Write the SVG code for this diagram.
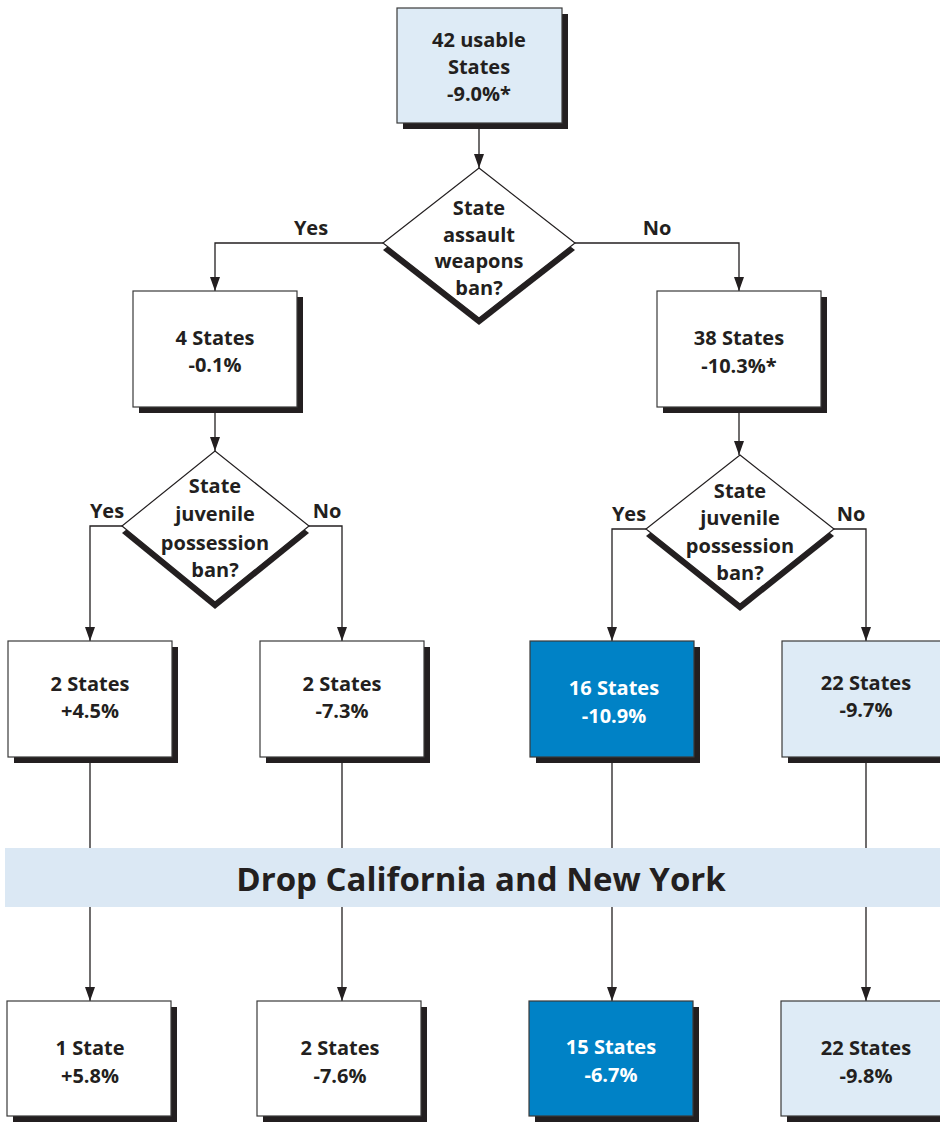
<svg xmlns="http://www.w3.org/2000/svg" width="940" height="1123" viewBox="0 0 940 1123">
<defs>
<marker id="arr" viewBox="0 0 14 10" refX="14" refY="5" markerWidth="14" markerHeight="10" orient="auto" markerUnits="userSpaceOnUse">
<path d="M0,0 L14,5 L0,10 z" fill="#231f20"/>
</marker>
</defs>
<style>
.t{font-family:"Open Sans","Noto Sans","Liberation Sans",sans-serif;font-weight:bold;font-size:20px;fill:#231f20;text-anchor:middle}
.w{fill:#ffffff}
.sh{fill:#231f20}
.bx{stroke:#3a3a3a;stroke-width:1.2}
.white{fill:#ffffff}
.light{fill:#deebf6}
.dark{fill:#0082c6}
.dm{fill:#ffffff;stroke:#231f20;stroke-width:1.2}
.ln{fill:none;stroke:#231f20;stroke-width:1.3}
.band{font-family:"Open Sans","Noto Sans","Liberation Sans",sans-serif;font-weight:bold;font-size:33px;fill:#231f20;text-anchor:middle}
</style>
<rect width="940" height="1123" fill="#ffffff"/>

<g id="band">
<rect x="5" y="848" width="935" height="59" fill="#dbe8f4"/>
<text class="band" x="481" y="891">Drop California and New York</text>
</g>

<g id="connectors">
<path class="ln" d="M479,123 V168" marker-end="url(#arr)"/>
<path class="ln" d="M383,243 H215 V291" marker-end="url(#arr)"/>
<path class="ln" d="M575,243 H739 V291" marker-end="url(#arr)"/>
<path class="ln" d="M215,407 V451" marker-end="url(#arr)"/>
<path class="ln" d="M739,407 V455" marker-end="url(#arr)"/>
<path class="ln" d="M122,526 H90 V641" marker-end="url(#arr)"/>
<path class="ln" d="M309,526 H342 V641" marker-end="url(#arr)"/>
<path class="ln" d="M646,529 H612 V641" marker-end="url(#arr)"/>
<path class="ln" d="M834,529 H866 V641" marker-end="url(#arr)"/>
<path class="ln" d="M90,757 V848 M342,757 V848 M612,757 V848 M866,757 V848"/>
<path class="ln" d="M90,907 V1001" marker-end="url(#arr)"/>
<path class="ln" d="M342,907 V1001" marker-end="url(#arr)"/>
<path class="ln" d="M612,907 V1001" marker-end="url(#arr)"/>
<path class="ln" d="M866,907 V1001" marker-end="url(#arr)"/>
<text class="t" x="311" y="235">Yes</text>
<text class="t" x="657" y="235">No</text>
<text class="t" x="107" y="518">Yes</text>
<text class="t" x="327" y="518">No</text>
<text class="t" x="629" y="521">Yes</text>
<text class="t" x="851" y="521">No</text>
</g>

<g id="n-top">
<rect class="sh" x="403" y="14" width="165" height="115"/>
<rect class="bx light" x="397" y="8" width="165" height="115"/>
<text class="t" x="479" y="47">42 usable</text>
<text class="t" x="479" y="74">States</text>
<text class="t" x="479" y="101">-9.0%*</text>
</g>

<g id="d-assault">
<polygon class="sh" points="479,175 575,250 479,325 383,250"/>
<polygon class="dm" points="479,168 575,243 479,318 383,243"/>
<text class="t" x="479" y="215">State</text>
<text class="t" x="479" y="242">assault</text>
<text class="t" x="479" y="268">weapons</text>
<text class="t" x="479" y="295">ban?</text>
</g>

<g id="n-4">
<rect class="sh" x="139" y="297" width="164" height="116"/>
<rect class="bx white" x="133" y="291" width="164" height="116"/>
<text class="t" x="215" y="345">4 States</text>
<text class="t" x="215" y="372">-0.1%</text>
</g>

<g id="n-38">
<rect class="sh" x="663" y="297" width="164" height="116"/>
<rect class="bx white" x="657" y="291" width="164" height="116"/>
<text class="t" x="739" y="345">38 States</text>
<text class="t" x="739" y="373">-10.3%*</text>
</g>

<g id="d-juv-left">
<polygon class="sh" points="215,458 309,533 215,609 122,533"/>
<polygon class="dm" points="215,451 309,526 215,602 122,526"/>
<text class="t" x="215" y="493">State</text>
<text class="t" x="215" y="521">juvenile</text>
<text class="t" x="215" y="550">possession</text>
<text class="t" x="215" y="577">ban?</text>
</g>

<g id="d-juv-right">
<polygon class="sh" points="740,462 834,536 740,611 646,536"/>
<polygon class="dm" points="740,455 834,529 740,604 646,529"/>
<text class="t" x="740" y="498">State</text>
<text class="t" x="740" y="525">juvenile</text>
<text class="t" x="740" y="553">possession</text>
<text class="t" x="740" y="580">ban?</text>
</g>

<g id="n-r3-1">
<rect class="sh" x="14" y="647" width="164" height="116"/>
<rect class="bx white" x="8" y="641" width="164" height="116"/>
<text class="t" x="90" y="691">2 States</text>
<text class="t" x="90" y="718">+4.5%</text>
</g>
<g id="n-r3-2">
<rect class="sh" x="266" y="647" width="164" height="116"/>
<rect class="bx white" x="260" y="641" width="164" height="116"/>
<text class="t" x="342" y="691">2 States</text>
<text class="t" x="342" y="718">-7.3%</text>
</g>
<g id="n-r3-3">
<rect class="sh" x="536" y="647" width="164" height="116"/>
<rect class="bx dark" x="530" y="641" width="164" height="116"/>
<text class="t w" x="614" y="695">16 States</text>
<text class="t w" x="614" y="723">-10.9%</text>
</g>
<g id="n-r3-4">
<rect class="sh" x="788" y="647" width="164" height="116"/>
<rect class="bx light" x="782" y="641" width="164" height="116"/>
<text class="t" x="866" y="690">22 States</text>
<text class="t" x="866" y="717">-9.7%</text>
</g>

<g id="n-b-1">
<rect class="sh" x="13" y="1007" width="164" height="115"/>
<rect class="bx white" x="7" y="1001" width="164" height="115"/>
<text class="t" x="90" y="1055">1 State</text>
<text class="t" x="90" y="1083">+5.8%</text>
</g>
<g id="n-b-2">
<rect class="sh" x="263" y="1007" width="164" height="115"/>
<rect class="bx white" x="257" y="1001" width="164" height="115"/>
<text class="t" x="340" y="1055">2 States</text>
<text class="t" x="340" y="1083">-7.6%</text>
</g>
<g id="n-b-3">
<rect class="sh" x="535" y="1007" width="164" height="115"/>
<rect class="bx dark" x="529" y="1001" width="164" height="115"/>
<text class="t w" x="611" y="1054">15 States</text>
<text class="t w" x="611" y="1082">-6.7%</text>
</g>
<g id="n-b-4">
<rect class="sh" x="787" y="1007" width="164" height="115"/>
<rect class="bx light" x="781" y="1001" width="164" height="115"/>
<text class="t" x="866" y="1055">22 States</text>
<text class="t" x="866" y="1083">-9.8%</text>
</g>
</svg>
